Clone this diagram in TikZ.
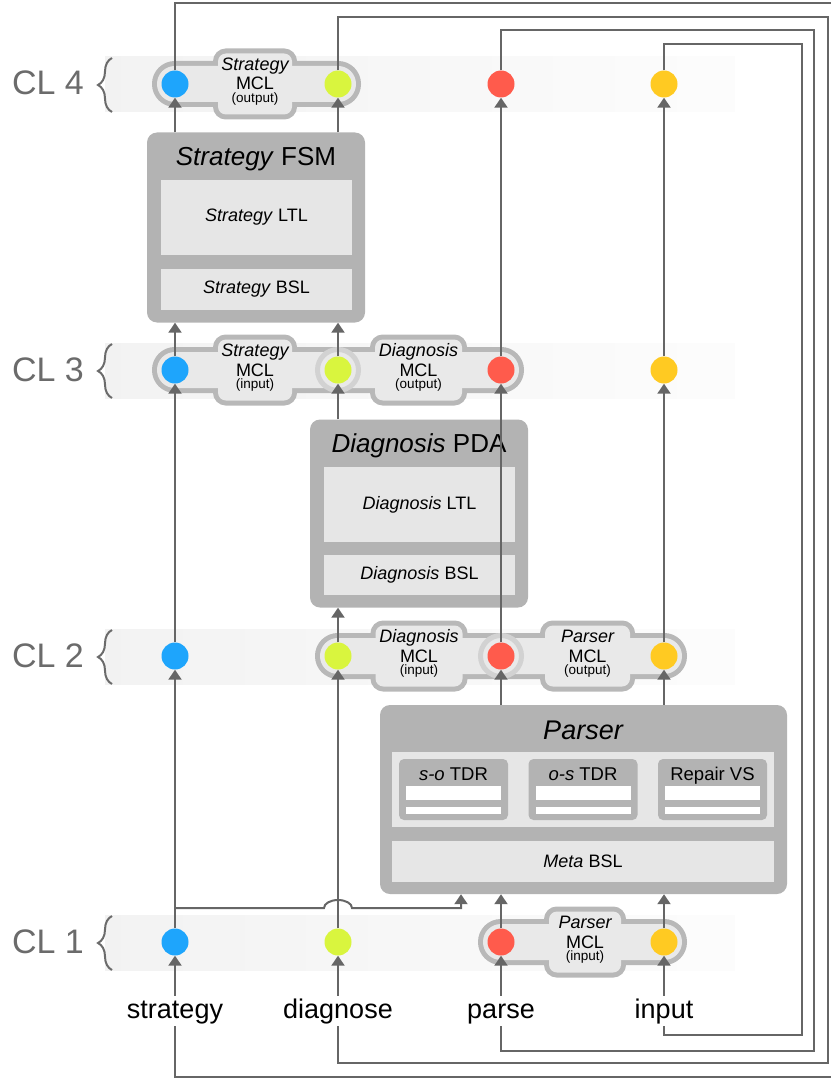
\documentclass[tikz,border=0pt]{standalone}
\usepackage{fontspec}
\setmainfont{Liberation Sans}
\usetikzlibrary{arrows.meta,decorations.pathreplacing,calc}
\definecolor{linec}{HTML}{666666}
\definecolor{boxd}{HTML}{B3B3B3}
\definecolor{boxl}{HTML}{E6E6E6}
\definecolor{mclb}{HTML}{B8B8B8}
\definecolor{mclf}{HTML}{E9E9E9}
\definecolor{ringc}{HTML}{D2D2D2}
\definecolor{cblue}{HTML}{1EA5FC}
\definecolor{cgreen}{HTML}{D9F53E}
\definecolor{cred}{HTML}{FF5B4C}
\definecolor{cyel}{HTML}{FFCA22}
\definecolor{cltext}{HTML}{6B6B6B}
\newcommand\fs[1]{\fontsize{#1}{#1}\selectfont}
\newcommand\mclback[5]{%
  \draw[mclb, line width=10pt, rounded corners=17.9pt] ({#1-18},{#3-18}) rectangle ({#2+18},{#3+18});
  \draw[mclb, line width=10pt, rounded corners=8pt] ({#4-#5/2},{#3-30.5}) rectangle ({#4+#5/2},{#3+30.5});}
\newcommand\mclfront[5]{%
  \fill[mclf, rounded corners=17.9pt] ({#1-18},{#3-18}) rectangle ({#2+18},{#3+18});
  \fill[mclf, rounded corners=8pt] ({#4-#5/2},{#3-30.5}) rectangle ({#4+#5/2},{#3+30.5});}
\newcommand\mcltext[5]{%
  \node[anchor=base, font=\fs{18}\itshape, inner sep=0] (#1a) at (#2,#3-13.5) {#4};
  \node[anchor=base, font=\fs{18}, inner sep=0] (#1b) at (#2,#3+6) {MCL};
  \node[anchor=base, font=\fs{13.5}, inner sep=0] (#1c) at (#2,#3+18.5) {(#5)};}
\tikzset{
  line/.style={draw=linec, line width=2pt},
  arr/.style={line, -{Triangle[width=13pt,length=10pt]}},
  dot/.style={circle, minimum size=27pt, inner sep=0pt},
  bigbox/.style={rectangle, rounded corners=10pt, fill=boxd, inner sep=0pt},
  inbox/.style={rectangle, fill=boxl, inner sep=0pt, font=\fs{18}},
  subbox/.style={rectangle, rounded corners=5pt, fill=boxd, inner sep=0pt},
  bar/.style={rectangle, fill=white, inner sep=0pt, minimum width=95pt},
  ttl/.style={anchor=base, inner sep=0pt},
  lbl/.style={anchor=base, font=\fs{27}, text height=20pt, text depth=6pt, inner sep=2pt},
}
\begin{document}
\begin{tikzpicture}[x=1pt,y=-1pt]
\useasboundingbox (0,0) rectangle (830,1078);
% bands, braces, level labels
\foreach \yy/\n in {84/4,370/3,656/2,942/1} {
  \shade[left color=black!5, right color=black!1] (105,\yy-27) rectangle (735,\yy+28);
  \draw[cltext, line width=2pt, decorate, decoration={brace, amplitude=14pt}] (112,\yy+28) -- (112,\yy-26);
  \node[font=\fs{34}, text=cltext, anchor=base, inner sep=0pt] (cl\n) at (48,\yy+11) {CL \n};
}
% Strategy FSM
\node[bigbox, minimum width=218pt, minimum height=190pt] (fsm) at (256,227.5) {};
\node[ttl, font=\fs{26}] (fsmT) at (256,166) {\textit{Strategy} FSM};
\node[inbox, minimum width=191pt, minimum height=75pt] (fsmL) at (256.5,217.5) {\textit{Strategy} LTL};
\node[inbox, minimum width=191pt, minimum height=41pt] (fsmB) at (256.5,289.5) {\textit{Strategy} BSL};
% Diagnosis PDA
\node[bigbox, minimum width=218pt, minimum height=188pt] (pda) at (419,513.5) {};
\node[ttl, font=\fs{26}] (pdaT) at (419,452.5) {\textit{Diagnosis} PDA};
\node[inbox, minimum width=191pt, minimum height=75pt] (pdaL) at (419.5,504.5) {\textit{Diagnosis} LTL};
\node[inbox, minimum width=191pt, minimum height=40pt] (pdaB) at (419.5,575) {\textit{Diagnosis} BSL};
% Parser
\node[bigbox, minimum width=407pt, minimum height=189pt] (parser) at (583.5,799.5) {};
\node[ttl, font=\fs{27}\itshape] (parT) at (583,739) {Parser};
\node[inbox, minimum width=382pt, minimum height=75pt] (parIn) at (583,789.5) {};
\node[inbox, minimum width=382pt, minimum height=41pt] (parB) at (583,861.5) {\textit{Meta} BSL};
\foreach \cx/\nm/\tx in {453.5/so/\textit{s-o} TDR, 583/os/\textit{o-s} TDR, 712.5/rv/Repair VS} {
  \node[subbox, minimum width=109pt, minimum height=61pt] (\nm) at (\cx,789.5) {};
  \node[ttl, font=\fs{18.5}] (\nm T) at (\cx,780) {\tx};
  \node[bar, minimum height=14pt] (\nm B1) at (\cx,793) {};
  \node[bar, minimum height=7pt] (\nm B2) at (\cx,810.5) {};
}
% MCL shapes
\mclback{175}{338}{84}{255}{74}
\mclback{175}{338}{370}{255}{74}
\mclback{338}{501}{370}{418.5}{87}
\mclback{338}{501}{656}{419}{87}
\mclback{501}{664}{656}{587.5}{85}
\mclback{501}{664}{942}{585}{72}
\mclfront{175}{338}{84}{255}{74}
\mclfront{175}{338}{370}{255}{74}
\mclfront{338}{501}{370}{418.5}{87}
\mclfront{338}{501}{656}{419}{87}
\mclfront{501}{664}{656}{587.5}{85}
\mclfront{501}{664}{942}{585}{72}
\draw[ringc, line width=5pt] (338,370) circle[radius=20.5];
\draw[ringc, line width=5pt] (501,656) circle[radius=20.5];
\mcltext{ms4}{255}{84}{Strategy}{output}
\mcltext{ms3}{255}{370}{Strategy}{input}
\mcltext{md3}{418.5}{370}{Diagnosis}{output}
\mcltext{md2}{419}{656}{Diagnosis}{input}
\mcltext{mp2}{587.5}{656}{Parser}{output}
\mcltext{mp1}{585}{942}{Parser}{input}
% dots
\foreach \r/\yy in {4/84,3/370,2/656,1/942} {
  \node[dot, fill=cblue] (b\r) at (175,\yy) {};
  \node[dot, fill=cgreen] (g\r) at (338,\yy) {};
  \node[dot, fill=cred] (r\r) at (501,\yy) {};
  \node[dot, fill=cyel] (y\r) at (664,\yy) {};
}
% input labels
\node[lbl] (lstr) at (175,1018) {strategy};
\node[lbl] (ldia) at (338,1018) {diagnose};
\node[lbl] (lpar) at (501,1018) {parse};
\node[lbl] (linp) at (664,1018) {input};
% loop corners
\coordinate (bTR) at (842,3);   \coordinate (bBR) at (842,1077);
\coordinate (gTR) at (828,17);  \coordinate (gBR) at (828,1063);
\coordinate (rTR) at (814,30);  \coordinate (rBR) at (814,1051);
\coordinate (yTR) at (802,44);  \coordinate (yBR) at (802,1035);
\coordinate (br) at (175,908);
\coordinate (hopL) at (324,908);
\coordinate (brE) at (461,908);
% strategy column
\draw[arr] (lstr.north) -- (b1.south);
\draw[arr] (b1.north) -- (b2.south);
\draw[arr] (b2.north) -- (b3.south);
\draw[arr] (b3.north) -- (b3.north |- fsm.south);
\draw[arr] (b4.south |- fsm.north) -- (b4.south);
\draw[line] (b4.north) |- (bTR) -- (bBR) -| (lstr.south);
\draw[arr] (br) -- (hopL) arc[start angle=180, end angle=360, x radius=14, y radius=8] -- (brE) -- (brE |- parser.south);
% diagnose column
\draw[arr] (ldia.north) -- (g1.south);
\draw[arr] (g1.north) -- (g2.south);
\draw[arr] (g2.north) -- (g2.north |- pda.south);
\draw[arr] (g3.south |- pda.north) -- (g3.south);
\draw[arr] (g3.north) -- (g3.north |- fsm.south);
\draw[arr] (g4.south |- fsm.north) -- (g4.south);
\draw[line] (g4.north) |- (gTR) -- (gBR) -| (ldia.south);
% parse column
\draw[arr] (lpar.north) -- (r1.south);
\draw[arr] (r1.north) -- (r1.north |- parser.south);
\draw[arr] (r2.south |- parser.north) -- (r2.south);
\draw[arr] (r2.north) -- (r3.south);
\draw[arr] (r3.north) -- (r4.south);
\draw[line] (r4.north) |- (rTR) -- (rBR) -| (lpar.south);
% input column
\draw[arr] (linp.north) -- (y1.south);
\draw[arr] (y1.north) -- (y1.north |- parser.south);
\draw[arr] (y2.south |- parser.north) -- (y2.south);
\draw[arr] (y2.north) -- (y3.south);
\draw[arr] (y3.north) -- (y4.south);
\draw[line] (y4.north) |- (yTR) -- (yBR) -| (linp.south);
\end{tikzpicture}
\end{document}
